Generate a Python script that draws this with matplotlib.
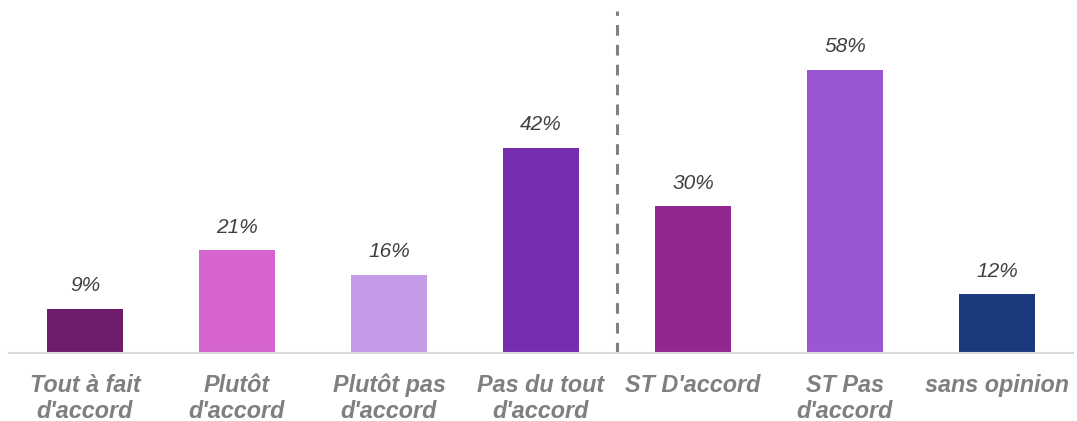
import matplotlib
matplotlib.use("Agg")
import matplotlib.pyplot as plt

categories = ["Tout à fait\nd'accord", "Plutôt\nd'accord", "Plutôt pas\nd'accord",
              "Pas du tout\nd'accord", "ST D'accord", "ST Pas\nd'accord", "sans opinion"]
values = [9, 21, 16, 42, 30, 58, 12]
colors = ["#6D1D6B", "#D564D1", "#C39BE6", "#772DB0", "#92278F", "#9B57D3", "#1B3A7E"]

plt.rcParams['font.family'] = ['Liberation Sans', 'DejaVu Sans']

fig = plt.figure(figsize=(10.77, 4.21), dpi=100)
ax = fig.add_axes([9/1077, 68/421, 1064/1077, 342/421])

x = list(range(len(categories)))
ax.bar(x, values, width=0.5, color=colors)
for xi, v in zip(x, values):
    ax.text(xi, v + 2.8, f"{v}%", ha="center", va="bottom", fontsize=15,
            style="italic", color="#404040")

ax.axvline(3.5, ymin=0, ymax=1, color="#808080", lw=2.2, ls=(0, (3.5, 3)))

ax.set_xlim(-0.5, 6.5)
ax.set_ylim(0, 70)
ax.set_xticks(x)
ax.set_xticklabels(categories, fontsize=16.8, fontweight="bold", style="italic",
                   color="#7F7F7F", linespacing=1.15)
ax.tick_params(axis="x", length=0, pad=15)
ax.set_yticks([])
for s in ["top", "right", "left"]:
    ax.spines[s].set_visible(False)
ax.spines["bottom"].set_color("#D9D9D9")
ax.spines["bottom"].set_linewidth(1.5)

fig.savefig("out.png", dpi=100)
